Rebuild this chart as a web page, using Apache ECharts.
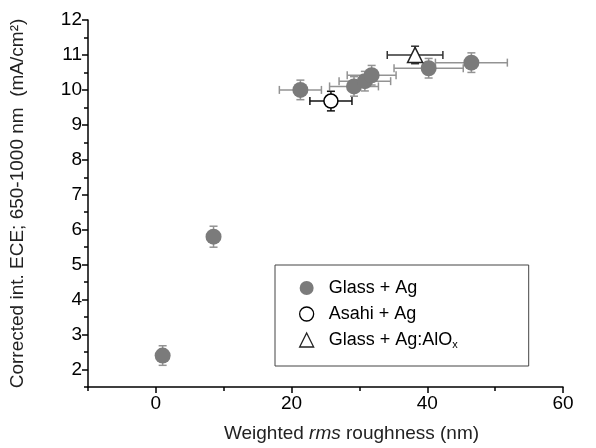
<!DOCTYPE html>
<html>
<head>
<meta charset="utf-8">
<script src="https://cdn.jsdelivr.net/npm/echarts@6/dist/echarts.min.js"></script>
<style>
  html, body { margin: 0; padding: 0; background: #fff; }
  #chart-container { width: 596px; height: 448px; }
</style>
</head>
<body>
<div id="chart-container"></div>
<script>
// Glass + Ag (filled gray circles)
var glassX    = [1, 8.5, 21.3, 29.2, 30.8, 31.8, 40.2, 46.5];
var glassY    = [2.4, 5.8, 10.0, 10.1, 10.25, 10.42, 10.62, 10.78];
var glassXErr = [0, 0, 3.1, 3.6, 3.8, 3.6, 5.1, 5.3];
var glassYErr = [0.28, 0.3, 0.28, 0.28, 0.28, 0.28, 0.28, 0.28];

// Asahi + Ag (open circle)
var asahiX = [25.8], asahiY = [9.68], asahiXErr = [3.1], asahiYErr = [0.28];

// Glass + Ag:AlOx (open triangle)
var alX = [38.2], alY = [11.0], alXErr = [4.1], alYErr = [0.25];

var xMajor = [0, 20, 40, 60];
var xMinor = [-10, 10, 30, 50];
var yMajor = [2, 3, 4, 5, 6, 7, 8, 9, 10, 11, 12];
var yMinor = [1.5, 2.5, 3.5, 4.5, 5.5, 6.5, 7.5, 8.5, 9.5, 10.5, 11.5];

var FONT = "'Liberation Sans', Arial, sans-serif";

function pts(xs, ys) {
  return xs.map(function (x, i) { return [x, ys[i]]; });
}
function errs(xs, ys, ex, ey) {
  return xs.map(function (x, i) { return [x, ys[i], ex[i], ey[i]]; });
}

function errorBars(color) {
  return function (params, api) {
    var x = api.value(0), y = api.value(1), ex = api.value(2), ey = api.value(3);
    var cap = 4;
    var children = [];
    var style = { stroke: color, lineWidth: 1.5 };
    if (ey > 0) {
      var t = api.coord([x, y + ey]), b = api.coord([x, y - ey]);
      children.push({ type: 'line', shape: { x1: t[0], y1: t[1], x2: b[0], y2: b[1] }, style: style });
      children.push({ type: 'line', shape: { x1: t[0] - cap, y1: t[1], x2: t[0] + cap, y2: t[1] }, style: style });
      children.push({ type: 'line', shape: { x1: b[0] - cap, y1: b[1], x2: b[0] + cap, y2: b[1] }, style: style });
    }
    if (ex > 0) {
      var l = api.coord([x - ex, y]), r = api.coord([x + ex, y]);
      children.push({ type: 'line', shape: { x1: l[0], y1: l[1], x2: r[0], y2: r[1] }, style: style });
      children.push({ type: 'line', shape: { x1: l[0], y1: l[1] - cap, x2: l[0], y2: l[1] + cap }, style: style });
      children.push({ type: 'line', shape: { x1: r[0], y1: r[1] - cap, x2: r[0], y2: r[1] + cap }, style: style });
    }
    return { type: 'group', children: children };
  };
}

var dom = document.getElementById('chart-container');
var myChart = echarts.init(dom, null, { renderer: 'canvas' });

var axisLine = { show: true, onZero: false, lineStyle: { color: '#000', width: 1.5 } };
var noLine = { show: false, onZero: false };

var option = {
  animation: false,
  textStyle: { fontFamily: FONT },
  grid: { left: 85, right: 33, top: 20, bottom: 58 },
  xAxis: [
    {
      type: 'value', min: -10, max: 60, interval: 10,
      axisLine: axisLine,
      axisTick: { show: true, length: 6, customValues: xMajor, lineStyle: { color: '#000', width: 1.5 } },
      axisLabel: { customValues: xMajor, color: '#000', fontSize: 19, margin: 7, fontFamily: FONT },
      splitLine: { show: false },
      name: 'Weighted {i|rms} roughness (nm)',
      nameLocation: 'middle', nameGap: 37,
      nameTextStyle: {
        color: '#222', fontSize: 19, fontFamily: FONT, padding: [0, 0, 0, 52],
        rich: { i: { fontStyle: 'italic', fontSize: 19, color: '#222', fontFamily: FONT } }
      }
    },
    {
      type: 'value', min: -10, max: 60, interval: 10, position: 'bottom',
      axisLine: noLine,
      axisTick: { show: true, length: 4, customValues: xMinor, lineStyle: { color: '#000', width: 1.5 } },
      axisLabel: { show: false },
      splitLine: { show: false }
    }
  ],
  yAxis: [
    {
      type: 'value', min: 1.5, max: 12, interval: 0.5,
      axisLine: axisLine,
      axisTick: { show: true, length: 6, customValues: yMajor, lineStyle: { color: '#000', width: 1.5 } },
      axisLabel: { customValues: yMajor, color: '#000', fontSize: 19, margin: 6, fontFamily: FONT },
      splitLine: { show: false },
      name: 'Corrected int. ECE; 650-1000 nm  (mA/cm²)',
      nameLocation: 'middle', nameGap: 61, nameRotate: 90,
      nameTextStyle: { color: '#222', fontSize: 19, fontFamily: FONT }
    },
    {
      type: 'value', min: 1.5, max: 12, interval: 0.5, position: 'left',
      axisLine: noLine,
      axisTick: { show: true, length: 4, customValues: yMinor, lineStyle: { color: '#000', width: 1.5 } },
      axisLabel: { show: false },
      splitLine: { show: false }
    }
  ],
  legend: {
    orient: 'vertical',
    left: 275, top: 265,
    data: ['Glass + Ag', 'Asahi + Ag', 'Glass + Ag:AlOx'],
    backgroundColor: '#fff',
    borderColor: '#444', borderWidth: 1,
    padding: [14, 71, 16, 24],
    itemGap: 8,
    itemWidth: 14, itemHeight: 14,
    itemStyle: { borderWidth: 1.3 },
    textStyle: {
      color: '#000', fontSize: 18, fontFamily: FONT,
      rich: {
        t: { fontSize: 18, color: '#000', fontFamily: FONT, padding: [0, 0, 0, 10] },
        s: { fontSize: 11, color: '#000', fontFamily: FONT, verticalAlign: 'bottom', padding: [9, 0, 0, 0] }
      }
    },
    formatter: function (name) {
      if (name === 'Glass + Ag:AlOx') return '{t|Glass + Ag:AlO}{s|x}';
      return '{t|' + name + '}';
    }
  },
  series: [
    {
      name: 'err1', type: 'custom', z: 1,
      renderItem: errorBars('#939393'),
      encode: { x: 0, y: 1 },
      data: errs(glassX, glassY, glassXErr, glassYErr)
    },
    {
      name: 'err2', type: 'custom', z: 1,
      renderItem: errorBars('#111'),
      encode: { x: 0, y: 1 },
      data: errs(asahiX, asahiY, asahiXErr, asahiYErr)
    },
    {
      name: 'err3', type: 'custom', z: 1,
      renderItem: errorBars('#333'),
      encode: { x: 0, y: 1 },
      data: errs(alX, alY, alXErr, alYErr)
    },
    {
      name: 'Glass + Ag', type: 'scatter', z: 3,
      symbol: 'circle', symbolSize: 16,
      itemStyle: { color: '#7b7b7b', opacity: 1 },
      data: pts(glassX, glassY)
    },
    {
      name: 'Asahi + Ag', type: 'scatter', z: 3,
      symbol: 'circle', symbolSize: 14,
      itemStyle: { color: '#fff', borderColor: '#000', borderWidth: 1.5, opacity: 1 },
      data: pts(asahiX, asahiY)
    },
    {
      name: 'Glass + Ag:AlOx', type: 'scatter', z: 3,
      symbol: 'triangle', symbolSize: 15,
      itemStyle: { color: '#fff', borderColor: '#222', borderWidth: 1.5, opacity: 1 },
      data: pts(alX, alY)
    }
  ]
};

myChart.setOption(option);
window.addEventListener('resize', myChart.resize);
</script>
</body>
</html>
